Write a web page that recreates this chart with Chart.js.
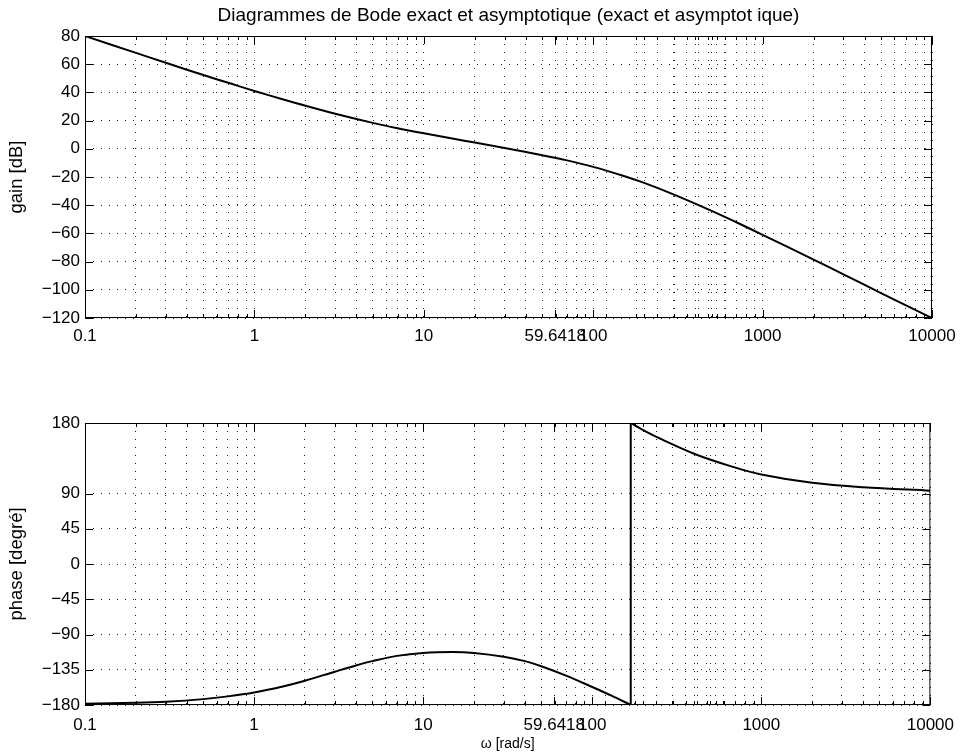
<!DOCTYPE html>
<html lang="fr">
<head>
<meta charset="utf-8">
<title>Diagrammes de Bode</title>
<script src="https://cdn.jsdelivr.net/npm/chart.js@4.4.1/dist/chart.umd.min.js"></script>
<style>
  html, body { margin: 0; padding: 0; background: #fff; }
  .pane { position: absolute; left: 0; }
  #gainPane { top: 0; }
  #phasePane { top: 380px; }
</style>
</head>
<body>
<div class="pane" id="gainPane"><canvas id="gainCanvas" width="964" height="372"></canvas></div>
<div class="pane" id="phasePane"><canvas id="phaseCanvas" width="964" height="375"></canvas></div>
<script>
// gain curve: pulsation (rad/s) -> dB
const gainW = [0.1, 0.2, 0.3, 0.5, 0.7, 1, 1.5, 2, 3, 5, 7, 10, 15, 20, 30, 50, 70, 100,
  150, 200, 300, 500, 700, 1000, 2000, 3000, 5000, 10000];
const gainDb = [80, 68, 61, 52.3, 46.8, 41, 34.8, 30.5, 24.9, 18.4, 14.6, 11, 7.1, 4.4, 0.6, -4.5, -8.2, -12.8,
  -19.1, -24.2, -32.5, -44, -52.1, -61, -78.6, -89, -102.3, -120];

// phase curve, split where it wraps from -180 to +180
const phaseW1 = [0.1, 0.2, 0.3, 0.5, 0.7, 1, 1.5, 2, 3, 4, 5, 7, 10, 15, 20, 30, 40, 50, 70, 100, 130, 169];
const phase1 = [-178.5, -177.2, -175.8, -172.5, -169, -164, -156, -149, -137.5, -129.5, -124, -117.3,
  -113.5, -112.4, -113.6, -118.4, -124, -130.5, -142.5, -157, -168, -180];
const phaseW2 = [169, 200, 260, 400, 650, 1000, 2000, 4000, 10000];
const phase2 = [180, 171, 158.7, 140.8, 125.3, 114.2, 103.6, 98, 93.6];

// axis ticks
const wCorner = 59.6418;
const xMajor = [0.1, 1, 10, wCorner, 100, 1000, 10000];
const gainTicks = [-120, -100, -80, -60, -40, -20, 0, 20, 40, 60, 80];
const phaseTicks = [-180, -135, -90, -45, 0, 45, 90, 180];

// minor grid: 2..9 in every decade, plus multiples of the corner pulsation
const xMinor = [];
for (let n = -1; n <= 3; n++) {
  for (let k = 2; k <= 9; k++) xMinor.push(+(k * Math.pow(10, n)).toPrecision(6));
}
for (let k = 2; k <= 10; k++) xMinor.push(+(k * wCorner).toPrecision(7));
const xGrid = xMajor.concat(xMinor).sort((a, b) => a - b);

const FONT = "'Liberation Sans', Arial, Helvetica, sans-serif";
Chart.defaults.font.family = FONT;
Chart.defaults.color = '#000';

const PLOT_LEFT = 85;
const PLOT_RIGHT = 932;
const DOT = [1, 7];

const signed = v => (v < 0 ? '\u2212' + Math.abs(v) : String(v));
const pts = (xs, ys) => xs.map((x, i) => ({ x: x, y: ys[i] }));

// MATLAB-like box with inward ticks on all four sides
const boxTicks = {
  id: 'boxTicks',
  afterDraw(chart) {
    const { ctx, chartArea: a, scales: { x, y } } = chart;
    ctx.save();
    ctx.setLineDash([]);
    ctx.strokeStyle = '#000';
    ctx.lineWidth = 1;
    ctx.beginPath();
    x.ticks.forEach(t => {
      const px = Math.round(x.getPixelForValue(t.value)) + 0.5;
      const len = t.major ? 8 : 4;
      ctx.moveTo(px, a.bottom); ctx.lineTo(px, a.bottom - len);
      ctx.moveTo(px, a.top); ctx.lineTo(px, a.top + len);
    });
    y.ticks.forEach(t => {
      const py = Math.round(y.getPixelForValue(t.value)) + 0.5;
      ctx.moveTo(a.left, py); ctx.lineTo(a.left + 8, py);
      ctx.moveTo(a.right, py); ctx.lineTo(a.right - 8, py);
    });
    ctx.stroke();
    ctx.strokeRect(a.left + 0.5, a.top + 0.5, a.right - a.left - 1, a.bottom - a.top - 1);
    ctx.restore();
  }
};

function xAxis(height, pad, title) {
  return {
    type: 'logarithmic',
    min: 0.1,
    max: 10000,
    afterBuildTicks: s => { s.ticks = xGrid.map(v => ({ value: v, major: xMajor.includes(v) })); },
    afterFit: s => { s.height = height; },
    ticks: {
      autoSkip: false, maxRotation: 0, minRotation: 0, padding: pad,
      font: { size: 17 },
      callback: (v, i, ticks) => (ticks[i].major ? String(v) : '')
    },
    grid: { color: '#222', lineWidth: 1, drawTicks: false },
    border: { display: false, dash: DOT },
    title: title
      ? { display: true, text: title, font: { size: 14 }, padding: { top: 0, bottom: 2.6 } }
      : { display: false }
  };
}

function yAxis(min, max, list, label) {
  return {
    min: min,
    max: max,
    afterBuildTicks: s => { s.ticks = list.map(v => ({ value: v, major: true })); },
    afterFit: s => { s.width = PLOT_LEFT; },
    ticks: { autoSkip: false, padding: 5, font: { size: 17 }, callback: signed },
    grid: { color: '#222', lineWidth: 1, drawTicks: false },
    border: { display: false, dash: DOT },
    title: { display: true, text: label, font: { size: 18.5 }, padding: { top: 6, bottom: 0 } }
  };
}

const curve = {
  borderColor: '#000',
  borderWidth: 2,
  pointRadius: 0,
  fill: false,
  tension: 0.35
};

new Chart(document.getElementById('gainCanvas'), {
  type: 'line',
  data: {
    datasets: [Object.assign({ label: 'gain', data: pts(gainW, gainDb) }, curve)]
  },
  options: {
    responsive: false,
    animation: false,
    layout: { padding: { left: 0, right: 964 - PLOT_RIGHT, top: 0, bottom: 0 } },
    scales: {
      x: xAxis(372 - 318, 8),
      y: yAxis(-120, 80, gainTicks, 'gain [dB]')
    },
    plugins: {
      legend: { display: false },
      tooltip: { enabled: false },
      title: {
        display: true,
        fullSize: false,
        text: 'Diagrammes de Bode exact et asymptotique (exact et asymptot ique)',
        font: { size: 19, weight: 'normal' },
        padding: { top: 4, bottom: 9.2 }
      }
    }
  },
  plugins: [boxTicks]
});

const before = pts(phaseW1, phase1);
const after = pts(phaseW2, phase2);

new Chart(document.getElementById('phaseCanvas'), {
  type: 'line',
  data: {
    datasets: [
      Object.assign({ label: 'phase', data: before }, curve),
      Object.assign({ label: 'saut', data: [before[before.length - 1], after[0]] }, curve, { tension: 0 }),
      Object.assign({ label: 'phase2', data: after }, curve)
    ]
  },
  options: {
    responsive: false,
    animation: false,
    layout: { padding: { left: 0, right: 964 - PLOT_RIGHT, top: 43, bottom: 0 } },
    scales: {
      x: xAxis(375 - 325, 10, '\u03c9 [rad/s]'),
      y: yAxis(-180, 180, phaseTicks, 'phase [degr\u00e9]')
    },
    plugins: {
      legend: { display: false },
      tooltip: { enabled: false }
    }
  },
  plugins: [boxTicks]
});
</script>
</body>
</html>
